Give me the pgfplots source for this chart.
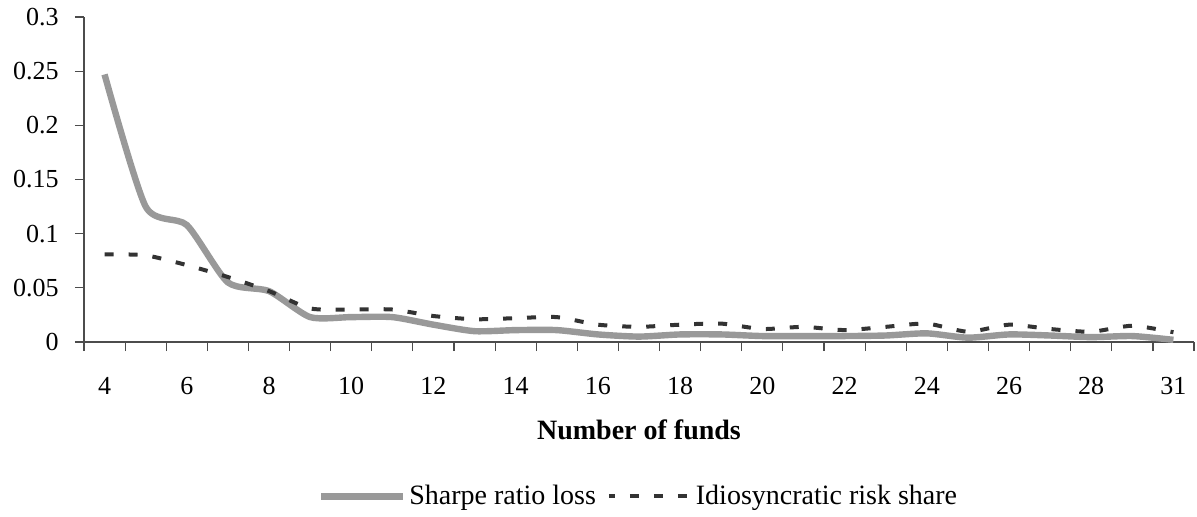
\documentclass[border=0pt]{standalone}
\usepackage{fontspec}
\setmainfont{Liberation Serif}
\usepackage{pgfplots}
\usepackage{pgfplotstable}
\pgfplotsset{compat=1.18}
\definecolor{srgray}{HTML}{999999}
\definecolor{idark}{HTML}{333333}

% i = category slot (4,5,...,29,31 funds)
\pgfplotstableread{
i   sr      idio
0   0.247   0.081
1   0.125   0.080
2   0.108   0.071
3   0.055   0.060
4   0.047   0.047
5   0.023   0.031
6   0.023   0.030
7   0.023   0.030
8   0.016   0.024
9   0.010   0.021
10  0.011   0.022
11  0.011   0.023
12  0.007   0.016
13  0.005   0.014
14  0.007   0.016
15  0.007   0.017
16  0.0055  0.012
17  0.0055  0.014
18  0.0055  0.011
19  0.006   0.014
20  0.008   0.017
21  0.004   0.0095
22  0.007   0.016
23  0.006   0.012
24  0.0045  0.0095
25  0.0055  0.015
26  0.002   0.009
}\funds

\begin{document}
\begin{tikzpicture}
\path[use as bounding box] (-42pt,-87pt) rectangle (556.5pt,171pt);
\begin{axis}[
    at={(0pt,0pt)}, anchor=south west,
    scale only axis, width=555pt, height=162.5pt,
    xmin=-0.5, xmax=26.5, ymin=0, ymax=0.3,
    clip=false,
    axis lines=left,
    axis line style={-, draw=black!70, line width=0.6pt},
    tick align=outside, major tick length=4.5pt,
    tick style={draw=black!70, line width=0.6pt},
    scaled y ticks=false,
    /pgf/number format/assume math mode=true,
    tick label style={font=\fontsize{13pt}{15pt}\selectfont},
    xtick={-0.5,0.5,...,26.5}, xticklabels={},
    extra x ticks={0,2,...,26},
    extra x tick labels={4,6,8,10,12,14,16,18,20,22,24,26,28,31},
    extra x tick style={major tick length=0pt,
        xticklabel style={anchor=base, yshift=-26pt}},
    ytick={0,0.05,0.1,0.15,0.2,0.25,0.3},
    yticklabels={0,0.05,0.1,0.15,0.2,0.25,0.3},
    yticklabel style={anchor=east, inner sep=0pt, xshift=-8pt},
    xlabel={Number of funds},
    xlabel style={at={(axis description cs:0.5,-0.2985)}, anchor=base,
        font=\fontsize{14pt}{16pt}\selectfont\bfseries},
    legend columns=2,
    legend style={at={(0.5,-0.475)}, anchor=center, draw=none, fill=none,
        font=\fontsize{14pt}{16pt}\selectfont,
        nodes={inner sep=1.5pt},
        /tikz/every even column/.append style={column sep=4pt}},
    legend image code/.code={\draw[#1, dash phase=1.5pt] (0pt,0pt) -- (41pt,0pt);},
]
\addplot[srgray, line width=3.2pt, smooth, tension=0.4] table[x=i, y=sr] {\funds};
\addlegendentry{Sharpe ratio loss}
\addplot[idark, line width=2pt, dash pattern=on 4.5pt off 7.5pt, smooth, tension=0.4] table[x=i, y=idio] {\funds};
\addlegendentry{Idiosyncratic risk share}
\end{axis}
\end{tikzpicture}
\end{document}
